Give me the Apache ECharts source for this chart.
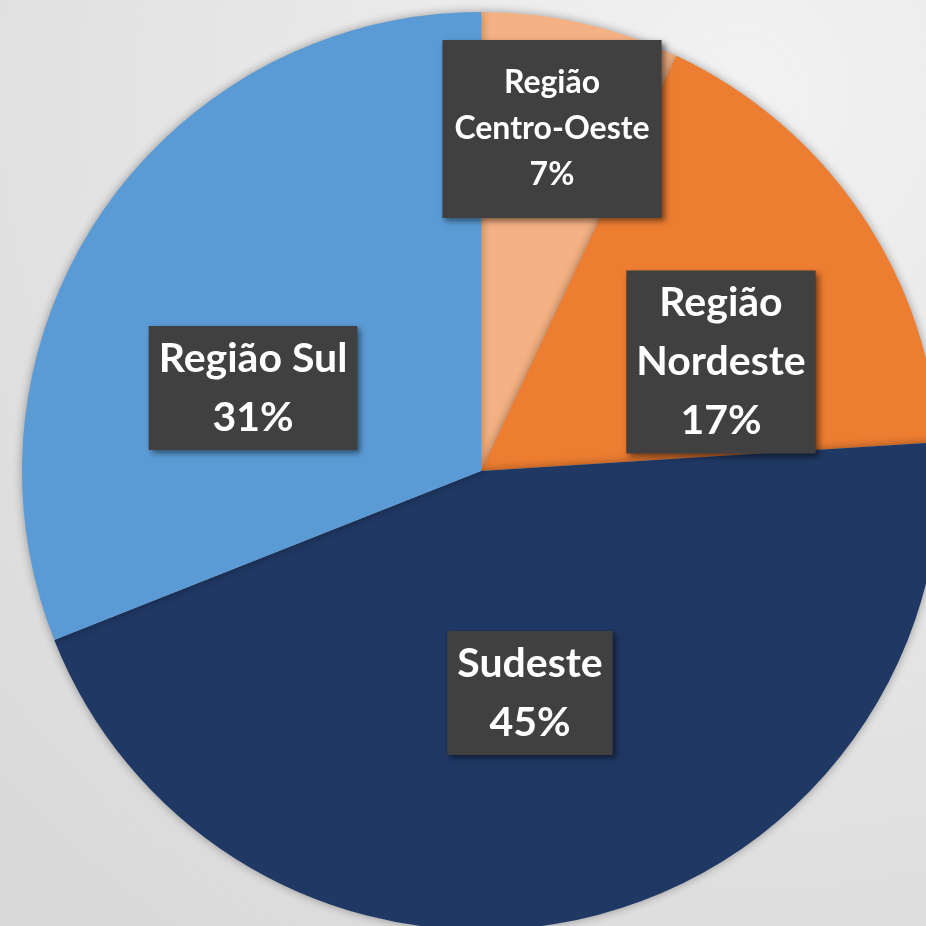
<!DOCTYPE html>
<html lang="pt">
<head>
<meta charset="utf-8">
<title>Regiões</title>
<script src="https://cdn.jsdelivr.net/npm/echarts@6/dist/echarts.min.js"></script>
<style>
  html, body { margin: 0; padding: 0; }
  #main { width: 926px; height: 926px; }
</style>
</head>
<body>
<div id="main"></div>
<script>
// dados
var regioes = ['Região\nCentro-Oeste', 'Região\nNordeste', 'Sudeste', 'Região Sul'];
var valores = [7, 17, 45, 31];
var cores = ['#F4B183', '#ED7D31', '#203864', '#5B9BD5'];

// posição (centro) de cada caixa de rótulo
var posRotulo = [[552, 129], [721, 362], [530, 693], [253, 388]];
var fonteRotulo = [32, 41, 41, 41];
var alturaLinha = [46, 59, 59, 59];
var padRotulo = [[20, 12], [3, 10], [3, 10], [3, 10]];

var chart = echarts.init(document.getElementById('main'));

var dados = regioes.map(function (nome, i) {
    return {
        name: nome,
        value: valores[i],
        itemStyle: { color: cores[i] },
        label: {
            fontSize: fonteRotulo[i],
            lineHeight: alturaLinha[i],
            padding: padRotulo[i]
        }
    };
});

var option = {
    backgroundColor: {
        type: 'radial', x: 0.8, y: 0.1, r: 1.1,
        colorStops: [
            { offset: 0, color: '#F2F2F2' },
            { offset: 1, color: '#DADADA' }
        ]
    },
    animation: false,
    series: [{
        type: 'pie',
        center: [481, 471],
        radius: 459,
        startAngle: 90,
        clockwise: true,
        data: dados,
        itemStyle: {
            shadowBlur: 10,
            shadowColor: 'rgba(0,0,0,0.35)'
        },
        label: {
            show: true,
            position: 'inside',
            formatter: '{b}\n{d}%',
            color: '#FFFFFF',
            fontFamily: 'Lato',
            fontWeight: 'bold',
            align: 'center',
            backgroundColor: '#404040',
            shadowColor: 'rgba(0,0,0,0.5)',
            shadowBlur: 6,
            shadowOffsetX: 3,
            shadowOffsetY: 3
        },
        labelLine: { show: false },
        labelLayout: function (params) {
            var p = posRotulo[params.dataIndex];
            return { x: p[0], y: p[1], align: 'center', verticalAlign: 'middle' };
        }
    }]
};

chart.setOption(option);
</script>
</body>
</html>
